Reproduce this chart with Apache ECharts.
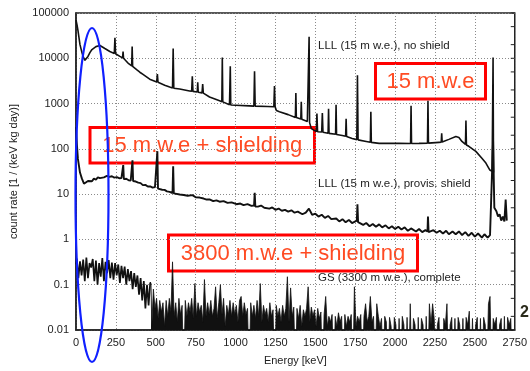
<!DOCTYPE html>
<html><head><meta charset="utf-8">
<script src="https://cdn.jsdelivr.net/npm/echarts@6/dist/echarts.min.js"></script>
<style>html,body{margin:0;padding:0;background:#fff}#c{width:530px;height:371px}</style>
</head><body><div id="c"></div>
<script>
// ---- data (energy keV, count rate 1/(keV kg day)) ----
const noShield = [[0,70000],[6,55000],[12,42000],[25,20000],[37,13500],[44,11000],[56,9000],[65,9500],[75,11000],[88,13500],[100,15600],[125,18100],[150,19100],[181,16400],[212,14100],[240,12800],[244,28500],[248,12600],[275,11000],[292,10200],[295,14000],[298,10000],[306,9450],[330,7600],[349,6800],[352,18100],[355,6600],[380,5600],[400,4920],[420,4400],[462,3460],[506,3000],[510,4500],[514,2950],[525,2830],[556,2550],[587,2320],[605,2200],[609,16500],[613,2180],[650,2100],[712,1900],[725,1880],[729,4020],[733,1860],[760,1800],[763,2960],[766,1780],[790,1720],[794,2700],[798,1700],[837,1400],[900,1150],[914,1100],[917,10450],[920,1090],[962,940],[965,935],[967,6650],[970,930],[1000,920],[1087,890],[1115,880],[1119,5180],[1123,878],[1200,860],[1240,850],[1244,2430],[1248,845],[1256,700],[1275,660],[1330,570],[1375,495],[1378,1710],[1381,490],[1409,455],[1412,1090],[1415,450],[1450,400],[1458,390],[1461,30000],[1464,380],[1475,280],[1506,240],[1510,600],[1514,238],[1540,235],[1544,620],[1548,232],[1580,222],[1583,770],[1586,220],[1627,210],[1630,940],[1633,208],[1669,198],[1690,190],[1693,460],[1696,188],[1731,170],[1760,160],[1764,4230],[1768,158],[1819,146],[1845,140],[1848,660],[1851,139],[1900,132],[2025,132],[2097,131],[2100,890],[2103,131],[2150,132],[2203,134],[2206,1150],[2209,134],[2275,139],[2289,140],[2292,220],[2295,141],[2337,162],[2381,188],[2400,179],[2419,146],[2441,125],[2444,420],[2447,122],[2462,114],[2506,88],[2544,62],[2569,48.5],[2594,34],[2608,32],[2614,10400],[2617,30]];

const provisShield = [[0,300],[6,120],[12,60],[25,30],[37,22],[50,17],[56,18],[62,16.5],[75,19.5],[87,20.7],[100,19.2],[112,22],[125,21],[137,23.5],[150,22.5],[162,24.5],[175,23.5],[194,25.2],[210,24],[225,24.8],[240,23.2],[256,23.8],[270,22.5],[285,22.8],[293,21.8],[296,44],[300,21.5],[315,21.8],[330,20.2],[343,20],[351,19.6],[354,56],[358,19.5],[375,19],[390,18],[405,17.5],[419,15.8],[435,16],[450,14.8],[465,14.8],[480,14],[495,14.3],[507,13.6],[510,89],[514,13.2],[525,13],[540,12.5],[555,12.4],[570,11.5],[587,11.2],[605,10.6],[609,41],[613,10.4],[625,10.2],[650,9.8],[675,9.6],[700,9.2],[712,8.9],[730,9.5],[750,8.5],[775,8.4],[800,8.0],[819,7.6],[840,7.6],[860,7.0],[880,7.3],[900,6.8],[925,7.0],[950,6.4],[975,6.6],[1006,6.0],[1030,6.2],[1050,5.7],[1075,6.0],[1100,5.5],[1116,5.6],[1120,10.7],[1124,5.3],[1140,5.3],[1160,5.6],[1180,5.0],[1212,4.8],[1230,5.1],[1250,4.5],[1270,4.8],[1290,4.3],[1310,4.5],[1330,4.1],[1350,4.4],[1370,3.9],[1390,4.1],[1419,3.6],[1440,3.9],[1460,4.8],[1480,3.5],[1500,3.7],[1520,3.2],[1540,3.5],[1560,3.0],[1580,3.3],[1600,2.8],[1631,2.9],[1650,2.5],[1670,2.8],[1690,2.4],[1710,2.7],[1730,2.3],[1760,2.6],[1764,6.0],[1768,2.4],[1780,2.5],[1800,2.1],[1819,2.3],[1840,1.95],[1860,2.2],[1880,1.9],[1900,2.15],[1919,1.85],[1940,2.05],[1960,1.75],[1980,1.95],[2000,1.7],[2020,1.9],[2040,1.65],[2060,1.85],[2080,1.55],[2100,1.75],[2131,1.5],[2150,1.7],[2170,1.45],[2190,1.6],[2203,1.5],[2206,3.2],[2210,1.45],[2220,1.4],[2240,1.6],[2260,1.4],[2280,1.55],[2300,1.35],[2320,1.55],[2337,1.3],[2360,1.5],[2380,1.3],[2400,1.5],[2420,1.25],[2440,1.45],[2460,1.2],[2480,1.4],[2500,1.15],[2520,1.35],[2544,1.1],[2560,1.3],[2580,1.1],[2595,1.25],[2606,1.15],[2614,150],[2622,5.0],[2635,4.2],[2645,3.2],[2655,3.6],[2665,2.6],[2675,3.2],[2685,2.5],[2693,7.6],[2700,2.6]];

// GS spectrum, 10 keV bins starting at 0 keV (0 = empty bin)
const gsStep = 10;
const gsValues = [
0.28,0.38,0.14,0.33,0.16,0.36,0.12,0.4,0.14,0.3,
0.24,0.37,0.12,0.34,0.1,0.3,0.15,0.39,0.12,0.32,
0.18,0.35,0.14,0.31,0.13,0.3,0.16,0.28,0.11,0.26,
0.14,0.25,0.1,0.22,0.12,0.2,0.08,0.18,0.09,0.16,
0.06,0.14,0.045,0.12,0.03,0.1,0.035,0.11,0.012,0.08,
0.03,0.05,0.018,0.045,0.025,0.04,0.012,0.045,0.02,0.05,
0.025,0.32,0.02,0.04,0.015,0.05,0.022,0.035,0,0.045,
0.02,0.04,0.025,0.05,0.018,0.106,0.02,0.04,0.025,0.035,
0.015,0.13,0.02,0.04,0.022,0.045,0.02,0.03,0.09,0.018,
0.04,0.1,0.022,0.05,0.012,0.035,0.022,0.045,0.02,0.04,
0.022,0.035,0.015,0.045,0.055,0.02,0.04,0.022,0.03,0,
0.04,0.02,0.035,0.018,0.045,0.02,0.106,0.015,0.035,0.022,
0.03,0.015,0.04,0.02,0.028,0,0.035,0.02,0.03,0.015,
0.035,0.02,0.03,0.15,0.015,0.085,0.02,0.032,0,0.03,
0.018,0.035,0.012,0.028,0.02,0.03,0.09,0.015,0.032,0.02,
0.028,0.012,0.03,0.018,0.025,0,0.022,0.055,0.012,0.02,
0.015,0.022,0,0.02,0.012,0.024,0.015,0.02,0,0.022,
0.012,0.02,0.015,0.022,0,0.09,0.012,0.02,0.015,0.022,
0,0.02,0.038,0.015,0.02,0.055,0.015,0.02,0,0.038,
0.02,0.012,0.018,0,0.02,0.015,0,0.019,0.012,0,
0.019,0.013,0,0.018,0,0.02,0.013,0,0.019,0,
0.038,0,0.018,0.013,0,0.019,0,0.018,0.013,0,
0.02,0,0.038,0.013,0.038,0.018,0,0.013,0.019,0,
0,0.018,0.013,0.038,0,0.013,0.019,0,0.018,0,
0.019,0.013,0,0.018,0,0.019,0.013,0.026,0,0.018,
0,0.013,0.019,0,0.018,0,0.019,0.013,0,0.038,
0.055,0,0.018,0.013,0.019,0,0.013,0.018,0,0.02,
0,0.019,0.013,0.018,0
];
const gsFilledFrom = 470; // keV: below this the low-count floor is above the axis

const rightTickValues = [0.02,0.05,0.1,0.2,0.5,1,2,5,10,20,50,100,200,500,1000,2000,5000,10000,20000,50000,100000];
const seriesLabels = ["LLL (15 m w.e.), no shield", "LLL (15 m w.e.), provis. shield", "GS (3300 m w.e.), complete"];
const annotationTexts = ["15 m.w.e", "15 m.w.e + shielding", "3800 m.w.e + shielding"];
const xAxisTitle = "Energy [keV]";
const yAxisTitle = "count rate [1 / (keV kg day)]";

// ---- chart ----
const FONT = '"Liberation Sans", Arial, sans-serif';
const EMPTY = 0.001; // drawn below the axis floor, clipped
const gsData = gsValues.map((v, i) => [i * gsStep, v > 0 ? v : EMPTY]);
const gsLow = gsData.filter(d => d[0] <= gsFilledFrom);
const gsHigh = gsData.filter(d => d[0] >= gsFilledFrom);

const chart = echarts.init(document.getElementById('c'), null, {renderer: 'canvas'});
const grid = {left: 76, right: 14, top: 13, bottom: 37};
const lineS = (name, data, w, extra) => Object.assign({
  name, type: 'line', data, showSymbol: false, symbol: 'none', clip: true,
  lineStyle: {color: '#111', width: w}, animation: false, silent: true, z: 3
}, extra || {});
const red = '#ff0000', redText = '#ff4b23';
const box = (x1, y1, x2, y2, text) => ({
  type: 'group', z: 100, children: [
    {type: 'rect', shape: {x: x1, y: y1, width: x2 - x1, height: y2 - y1},
     style: {fill: 'none', stroke: red, lineWidth: 3}},
    {type: 'text', x: (x1 + x2) / 2, y: (y1 + y2) / 2 + 1,
     style: {text, fill: redText, font: '22px ' + FONT, textAlign: 'center', textVerticalAlign: 'middle'}}
  ]});
const lab = (x, y, text) => ({type: 'text', x, y, z: 50,
  style: {text, fill: '#222', font: '11.5px ' + FONT, textVerticalAlign: 'middle'}});

chart.setOption({
  backgroundColor: '#fff',
  animation: false,
  grid: Object.assign({show: true, borderColor: '#222', borderWidth: 1.5, backgroundColor: 'transparent'}, grid),
  xAxis: {
    type: 'value', min: 0, max: 2750, interval: 250,
    name: xAxisTitle, nameLocation: 'middle', nameGap: 25,
    nameTextStyle: {fontFamily: FONT, fontSize: 11, color: '#222'},
    axisLine: {show: true, lineStyle: {color: '#222', width: 1.5}},
    axisTick: {show: false},
    axisLabel: {fontFamily: FONT, fontSize: 11, color: '#222', margin: 7, showMaxLabel: true,
      formatter: v => String(v)},
    splitLine: {show: true, lineStyle: {color: '#8a8a8a', type: [1, 2], width: 1}}
  },
  yAxis: {
    type: 'log', logBase: 10, min: 0.01, max: 100000,
    name: yAxisTitle, nameLocation: 'middle', nameGap: 57, nameRotate: 90,
    nameTextStyle: {fontFamily: FONT, fontSize: 11, color: '#222'},
    axisLine: {show: true, lineStyle: {color: '#222', width: 1.5}},
    axisTick: {show: false},
    axisLabel: {fontFamily: FONT, fontSize: 11, color: '#222', margin: 7,
      formatter: v => String(v)},
    splitLine: {show: true, lineStyle: {color: '#8a8a8a', type: [1, 2], width: 1}}
  },
  series: [
    lineS('GS low', gsLow, 1.7, {step: 'middle'}),
    lineS('GS high', gsHigh, 0.8, {step: 'middle', areaStyle: {color: '#111', opacity: 1, origin: 'start'}}),
    lineS('provis', provisShield, 1.9),
    lineS('noShield', noShield, 1.6),
    {
      type: 'custom', silent: true, clip: false, z: 4,
      data: rightTickValues.map(v => [2750, v]),
      encode: {x: 0, y: 1},
      renderItem: (params, api) => {
        const p = api.coord([api.value(0), api.value(1)]);
        return {type: 'line', shape: {x1: p[0] - 4, y1: p[1], x2: p[0], y2: p[1]},
          style: {stroke: '#222', lineWidth: 1}};
      }
    }
  ],
  graphic: [
    lab(318, 46, seriesLabels[0]),
    lab(318, 184, seriesLabels[1]),
    lab(318, 278, seriesLabels[2]),
    box(375.5, 63.5, 485.5, 99, annotationTexts[0]),
    box(90, 127.5, 314.5, 163, annotationTexts[1]),
    box(168.5, 235, 417.5, 271, annotationTexts[2]),
    {type: 'ellipse', z: 110, shape: {cx: 92, cy: 195, rx: 16.5, ry: 167},
     style: {fill: 'none', stroke: '#1020ff', lineWidth: 2.2}},
    {type: 'text', x: 520, y: 313, z: 120,
     style: {text: '2', fill: '#2a2a1a', font: 'bold 16px ' + FONT, textVerticalAlign: 'middle'}}
  ]
});
</script></body></html>
